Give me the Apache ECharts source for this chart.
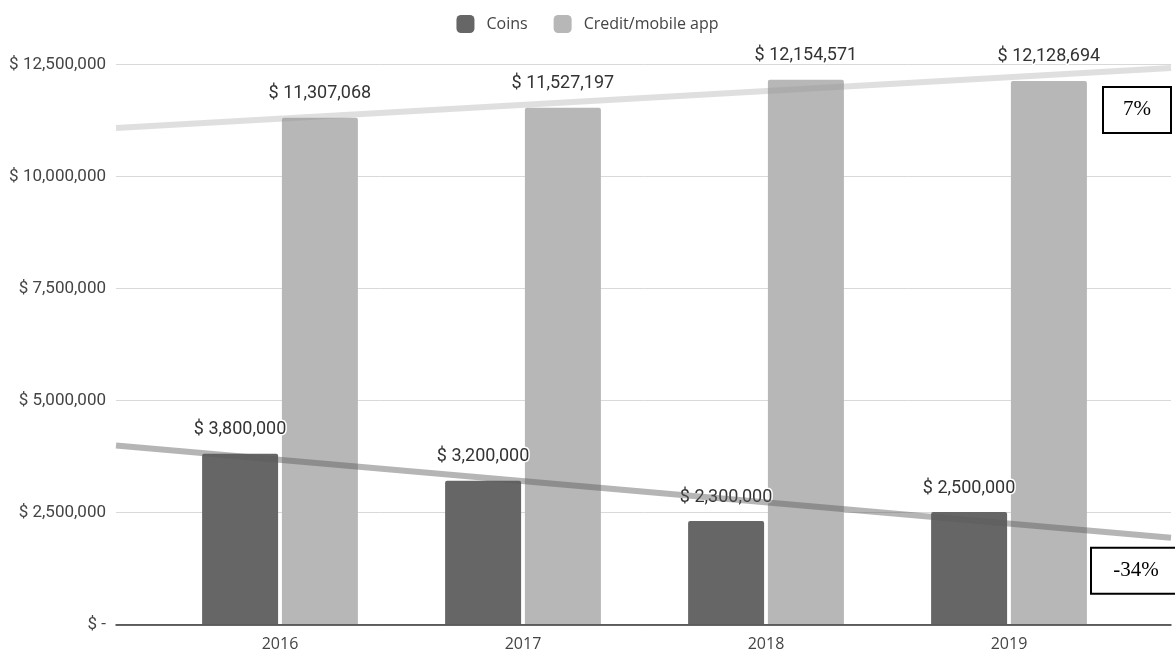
<!DOCTYPE html>
<html>
<head>
<meta charset="utf-8">
<script src="https://cdn.jsdelivr.net/npm/echarts@6/dist/echarts.min.js"></script>
<style>
html,body{margin:0;padding:0;background:#fff;}
#chart{width:1175px;height:652px;}
</style>
</head>
<body>
<div id="chart"></div>
<script>
var categories = ['2016', '2017', '2018', '2019'];
var coins = [3800000, 3200000, 2300000, 2500000];
var credit = [11307068, 11527197, 12154571, 12128694];
var yTicks = [0, 2500000, 5000000, 7500000, 10000000, 12500000];
// hand-drawn trend lines: value at left edge and right edge of the plot
var creditTrend = [11080000, 12420000];
var coinsTrend = [3990000, 1930000];
var creditChange = '7%';
var coinsChange = '-34%';

function money(v) {
  return v === 0 ? '$ -' : '$ ' + v.toLocaleString('en-US');
}

var chart = echarts.init(document.getElementById('chart'));
var labelStyle = {
  show: true,
  position: 'top',
  distance: 15,
  fontFamily: 'Roboto',
  fontSize: 18,
  color: '#333',
  textBorderColor: '#fff',
  textBorderWidth: 3,
  formatter: function (p) { return money(p.value); }
};
function boxLabel(text, off, w) {
  return {
    show: true,
    position: 'inside',
    offset: off,
    formatter: text,
    fontFamily: 'Liberation Serif',
    fontSize: 21,
    color: '#000',
    backgroundColor: '#fff',
    borderColor: '#000',
    borderWidth: 2,
    width: w,
    height: 44,
    lineHeight: 44,
    align: 'center',
    verticalAlign: 'middle',
    padding: 0
  };
}

chart.setOption({
  animation: false,
  legend: {
    top: 10,
    left: 'center',
    itemWidth: 18,
    itemHeight: 18,
    itemGap: 26,
    data: ['Coins', 'Credit/mobile app'],
    textStyle: { fontFamily: 'Open Sans', fontSize: 16, color: '#444', padding: [0, 0, 0, 7] },
    itemStyle: { borderRadius: 2 }
  },
  grid: [
    { left: 116, right: 4, top: 64.3, bottom: 27.7 },
    { left: 158.5, right: 44.5, top: 64.3, bottom: 27.7 }
  ],
  xAxis: [
    {
      gridIndex: 0, type: 'value', min: 0, max: 1,
      axisLine: { show: true, onZero: false, lineStyle: { color: '#333', width: 1.5 } },
      axisTick: { show: false }, axisLabel: { show: false }, splitLine: { show: false }
    },
    {
      gridIndex: 1, type: 'category', data: categories,
      axisLine: { show: false }, axisTick: { show: false },
      axisLabel: { fontFamily: 'Open Sans', fontSize: 16, color: '#444', margin: 12 }
    }
  ],
  yAxis: [
    {
      gridIndex: 0, type: 'value', min: yTicks[0], max: yTicks[yTicks.length - 1],
      interval: yTicks[1] - yTicks[0],
      axisLine: { show: false }, axisTick: { show: false },
      axisLabel: { fontFamily: 'Roboto', fontSize: 17, color: '#444', margin: 10, formatter: money },
      splitLine: { lineStyle: { color: '#d9d9d9', width: 1 } }
    },
    {
      gridIndex: 1, type: 'value', min: yTicks[0], max: yTicks[yTicks.length - 1],
      interval: yTicks[1] - yTicks[0], show: false, splitLine: { show: false }
    }
  ],
  series: [
    {
      name: 'Coins', type: 'bar', xAxisIndex: 1, yAxisIndex: 1, data: coins,
      barWidth: 76, barGap: '5%',
      itemStyle: { color: '#666666', borderRadius: [2, 2, 0, 0] },
      label: labelStyle, z: 2
    },
    {
      name: 'Credit/mobile app', type: 'bar', xAxisIndex: 1, yAxisIndex: 1, data: credit,
      barWidth: 76, barGap: '5%',
      itemStyle: { color: '#b7b7b7', borderRadius: [2, 2, 0, 0] },
      label: labelStyle, z: 2
    },
    {
      name: 'creditTrend', type: 'line', xAxisIndex: 0, yAxisIndex: 0,
      data: [[0, creditTrend[0]], { value: [1, creditTrend[1]], label: boxLabel(creditChange, [-34, 42], 66) }],
      symbol: 'circle', symbolSize: 0, showSymbol: true,
      lineStyle: { color: 'rgba(150,150,150,0.3)', width: 6, cap: 'butt' },
      label: { show: false }, z: 3, silent: true
    },
    {
      name: 'coinsTrend', type: 'line', xAxisIndex: 0, yAxisIndex: 0,
      data: [[0, coinsTrend[0]], { value: [1, coinsTrend[1]], label: boxLabel(coinsChange, [-35, 33], 88) }],
      symbol: 'circle', symbolSize: 0, showSymbol: true,
      lineStyle: { color: 'rgba(90,90,90,0.45)', width: 6, cap: 'butt' },
      label: { show: false }, z: 3, silent: true
    }
  ]
});
</script>
</body>
</html>
